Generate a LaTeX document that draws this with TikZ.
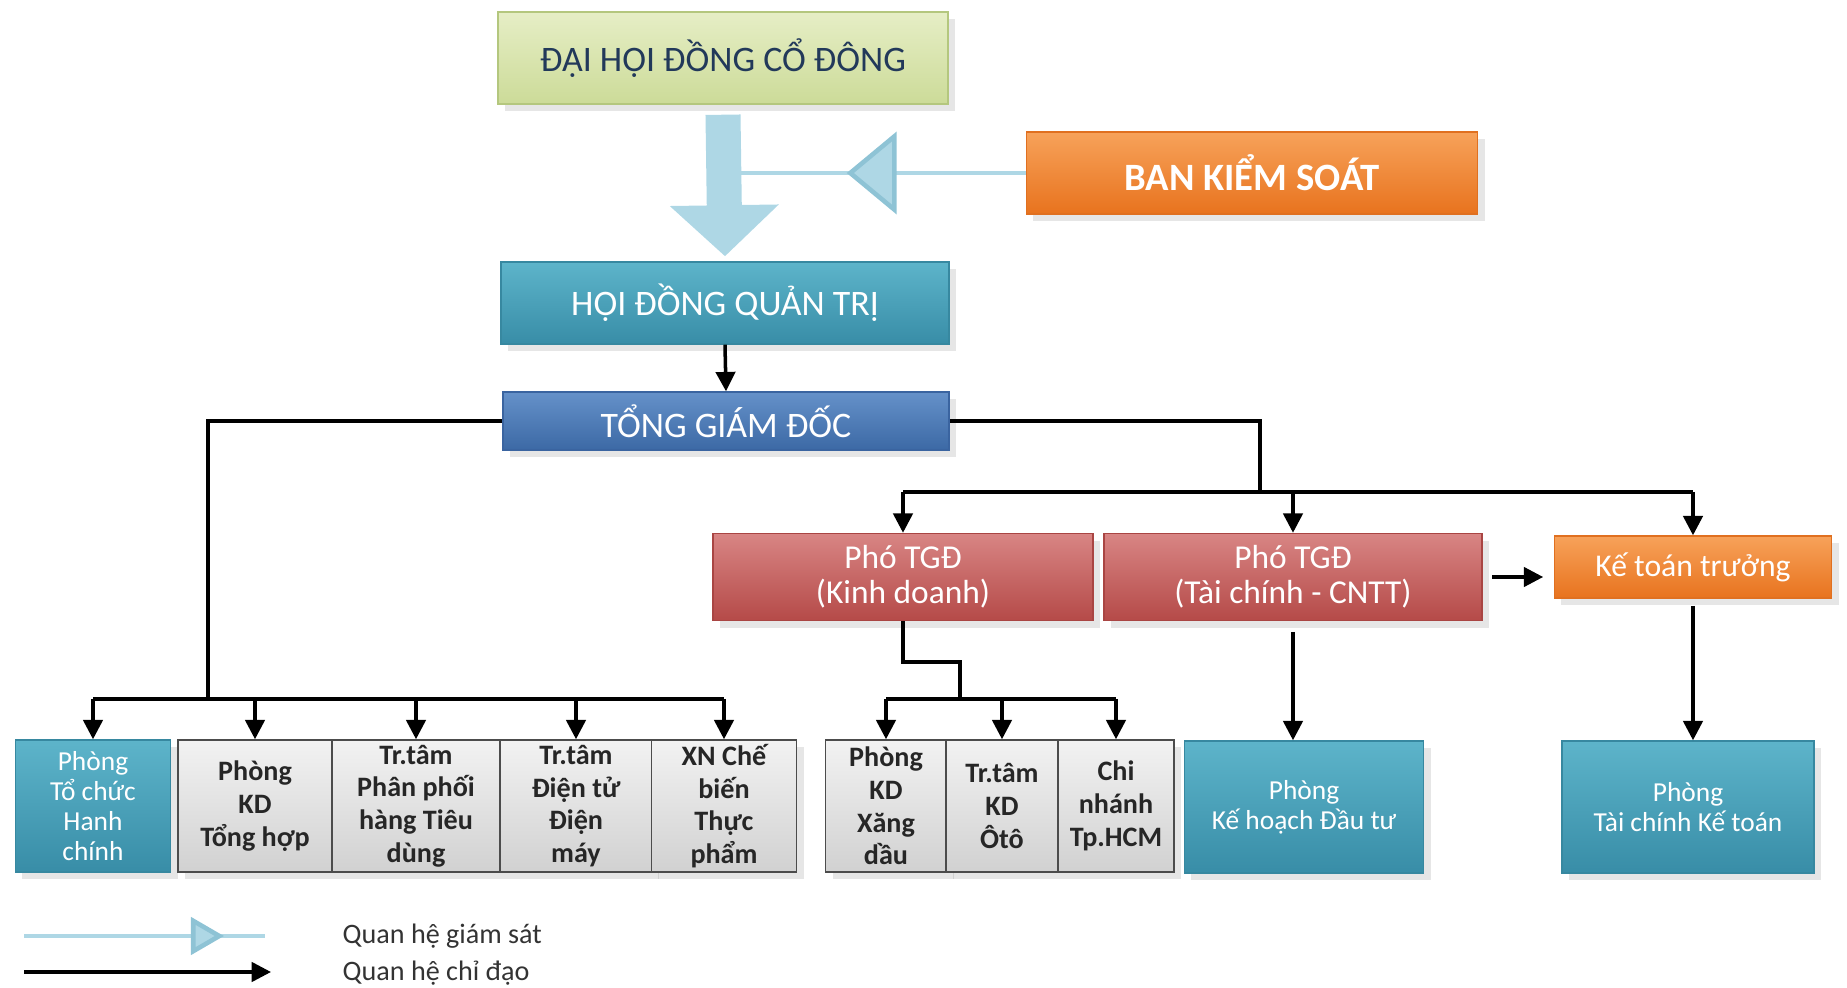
\documentclass[tikz,border=0pt]{standalone}
\usepackage{fontspec}
\setmainfont{Carlito}
\usetikzlibrary{arrows.meta,shadows,calc}

\definecolor{navy}{HTML}{22395A}
\definecolor{supblue}{HTML}{AED7E5}
\definecolor{supedge}{HTML}{8EC3D5}
\definecolor{greentop}{HTML}{E6EEC6}
\definecolor{greenbot}{HTML}{CCDB98}
\definecolor{greenedge}{HTML}{B4C77E}
\definecolor{orangetop}{HTML}{F7A25A}
\definecolor{orangebot}{HTML}{E8731E}
\definecolor{orangeedge}{HTML}{E07020}
\definecolor{tealtop}{HTML}{5DB4CA}
\definecolor{tealbot}{HTML}{388DA7}
\definecolor{tealedge}{HTML}{3788A0}
\definecolor{bluetop}{HTML}{6591C9}
\definecolor{bluebot}{HTML}{3C69A5}
\definecolor{blueedge}{HTML}{3A64A0}
\definecolor{redtop}{HTML}{D88584}
\definecolor{redbot}{HTML}{B54A48}
\definecolor{rededge}{HTML}{A94543}

\tikzset{
  >={Triangle[length=5.5pt,width=5.5pt]},
  box/.style={draw, align=center, inner sep=1pt, text=white,
    drop shadow={shadow xshift=2pt,shadow yshift=-2pt,opacity=.2}},
  title/.style={box, font=\fontsize{10.2}{12}\selectfont},
  greenbox/.style={draw=greenedge, top color=greentop, bottom color=greenbot, text=navy},
  orangebox/.style={draw=orangeedge, top color=orangetop, bottom color=orangebot},
  tealbox/.style={draw=tealedge, top color=tealtop, bottom color=tealbot},
  bluebox/.style={draw=blueedge, top color=bluetop, bottom color=bluebot},
  redbox/.style={draw=rededge, top color=redtop, bottom color=redbot},
  dept/.style={box, tealbox, font=\fontsize{7.8}{8.6}\selectfont, minimum height=1.32cm},
  graybox/.style={box, draw=black!70, top color=black!5, bottom color=black!18, text=black!85,
    font=\bfseries\fontsize{8}{9.3}\selectfont, minimum height=1.32cm},
  dir/.style={draw=black, line width=1pt},
  supline/.style={draw=supblue, line width=1.3pt},
  bigarrow/.style={draw=supblue, line width=.35cm, -{Triangle[length=.51cm,width=1.06cm]}},
  legend/.style={font=\fontsize{8}{9}\selectfont, text=black!80, anchor=west, inner sep=0pt}
}

\begin{document}
\begin{tikzpicture}[x=0.01cm,y=-0.01cm]
\useasboundingbox (0,0) rectangle (1847,988);

\node[title, greenbox, minimum width=4.5cm, minimum height=.92cm] (dhdcd) at (723,58) {ĐẠI HỘI ĐỒNG CỔ ĐÔNG};
\node[title, orangebox, font=\bfseries\fontsize{11}{13}\selectfont, minimum width=4.51cm, minimum height=.82cm] (bks) at (1252,173) {BAN KIỂM SOÁT};
\node[title, tealbox, minimum width=4.48cm, minimum height=.82cm] (hdqt) at (725,303) {HỘI ĐỒNG QUẢN TRỊ};
\node[title, bluebox, minimum width=4.46cm, minimum height=.58cm] (tgd) at (726,421) {TỔNG GIÁM ĐỐC};

\node[box, redbox, font=\fontsize{9.5}{10}\selectfont, minimum width=3.8cm, minimum height=.87cm] (ptgdkd) at (903,577) {Phó TGĐ\\(Kinh doanh)};
\node[box, redbox, font=\fontsize{9.5}{10}\selectfont, minimum width=3.78cm, minimum height=.87cm] (ptgdtc) at (1293,577) {Phó TGĐ\\(Tài chính - CNTT)};
\node[box, orangebox, font=\fontsize{9}{10}\selectfont, minimum width=2.77cm, minimum height=.62cm] (ktt) at (1693,567) {Kế toán trưởng};

\node[dept, minimum width=1.55cm] (ptchc) at (93,806) {Phòng\\Tổ chức\\Hanh\\chính};
\node[graybox, minimum width=1.54cm] (pkdth) at (255,806) {Phòng\\KD\\Tổng hợp};
\node[graybox, minimum width=1.68cm] (ttpp) at (416,806) {Tr.tâm\\Phân phối\\hàng Tiêu\\dùng};
\node[graybox, minimum width=1.52cm] (ttdt) at (576,806) {Tr.tâm\\Điện tử\\Điện\\máy};
\node[graybox, minimum width=1.45cm] (xncb) at (724,806) {XN Chế\\biến\\Thực\\phẩm};
\node[graybox, minimum width=1.21cm] (pkdxd) at (886,806) {Phòng\\KD\\Xăng\\dầu};
\node[graybox, minimum width=1.12cm] (ttoto) at (1002,806) {Tr.tâm\\KD\\Ôtô};
\node[graybox, minimum width=1.16cm] (cnhcm) at (1116,806) {Chi\\nhánh\\Tp.HCM};
\node[dept, minimum width=2.39cm] (pkhdt) at (1304,807) {Phòng\\Kế hoạch Đầu tư};
\node[dept, minimum width=2.52cm] (ptckt) at (1688,807) {Phòng\\Tài chính Kế toán};

% giam sat
\draw[supline] (bks.west) -- (dhdcd.south |- bks.west);
\draw[supline, -{Triangle[length=.5cm,width=.82cm,fill=supblue,color=supedge]}] (bks.west) -- ++(-179,0);
\draw[bigarrow] ($(dhdcd.south)+(0,10)$) -- ($(hdqt.north)+(0,-5)$);

% chi dao
\draw[dir,->] (hdqt.south) -- (tgd.north);

\coordinate (lbus) at (208,699);
\draw[dir] (tgd.west) -| (lbus);
\draw[dir] (ptchc.north |- lbus) -- (xncb.north |- lbus);
\foreach \n in {ptchc,pkdth,ttpp,ttdt,xncb}
  \draw[dir,->] (\n.north |- lbus) -- (\n.north);

\coordinate (rbus) at (1260,492);
\draw[dir] (tgd.east) -| (rbus);
\draw[dir] (ptgdkd.north |- rbus) -- (ktt.north |- rbus);
\foreach \n in {ptgdkd,ptgdtc,ktt}
  \draw[dir,->] (\n.north |- rbus) -- (\n.north);

\coordinate (kdbus) at (960,699);
\draw[dir] (ptgdkd.south) -- ++(0,41) -| (kdbus);
\draw[dir] (pkdxd.north |- kdbus) -- (cnhcm.north |- kdbus);
\foreach \n in {pkdxd,ttoto,cnhcm}
  \draw[dir,->] (\n.north |- kdbus) -- (\n.north);

\draw[dir,->,shorten <=8pt/3,shorten >=9pt/3] (ptgdtc.east) -- (ptgdtc.east -| ktt.west);
\draw[dir,->,shorten <=3pt] (ptgdtc.south) -- (ptgdtc.south |- pkhdt.north);
\draw[dir,->,shorten <=2pt] (ktt.south) -- (ktt.south |- ptckt.north);

% legend
\coordinate (ls1) at (24,936);
\coordinate (le1) at (265,936);
\coordinate (ls2) at (24,972);
\coordinate (le2) at (271,972);
\draw[supline] (ls1) -- (le1);
\draw[supline, -{Triangle[length=.33cm,width=.37cm,fill=supblue,color=supedge]}] (ls1) -- ($(ls1)+(200,0)$);
\draw[dir,->] (ls2) -- (le2);
\node[legend] (lsup) at (342,936) {Quan hệ giám sát};
\node[legend] (ldir) at (342,973) {Quan hệ chỉ đạo};
\end{tikzpicture}
\end{document}
